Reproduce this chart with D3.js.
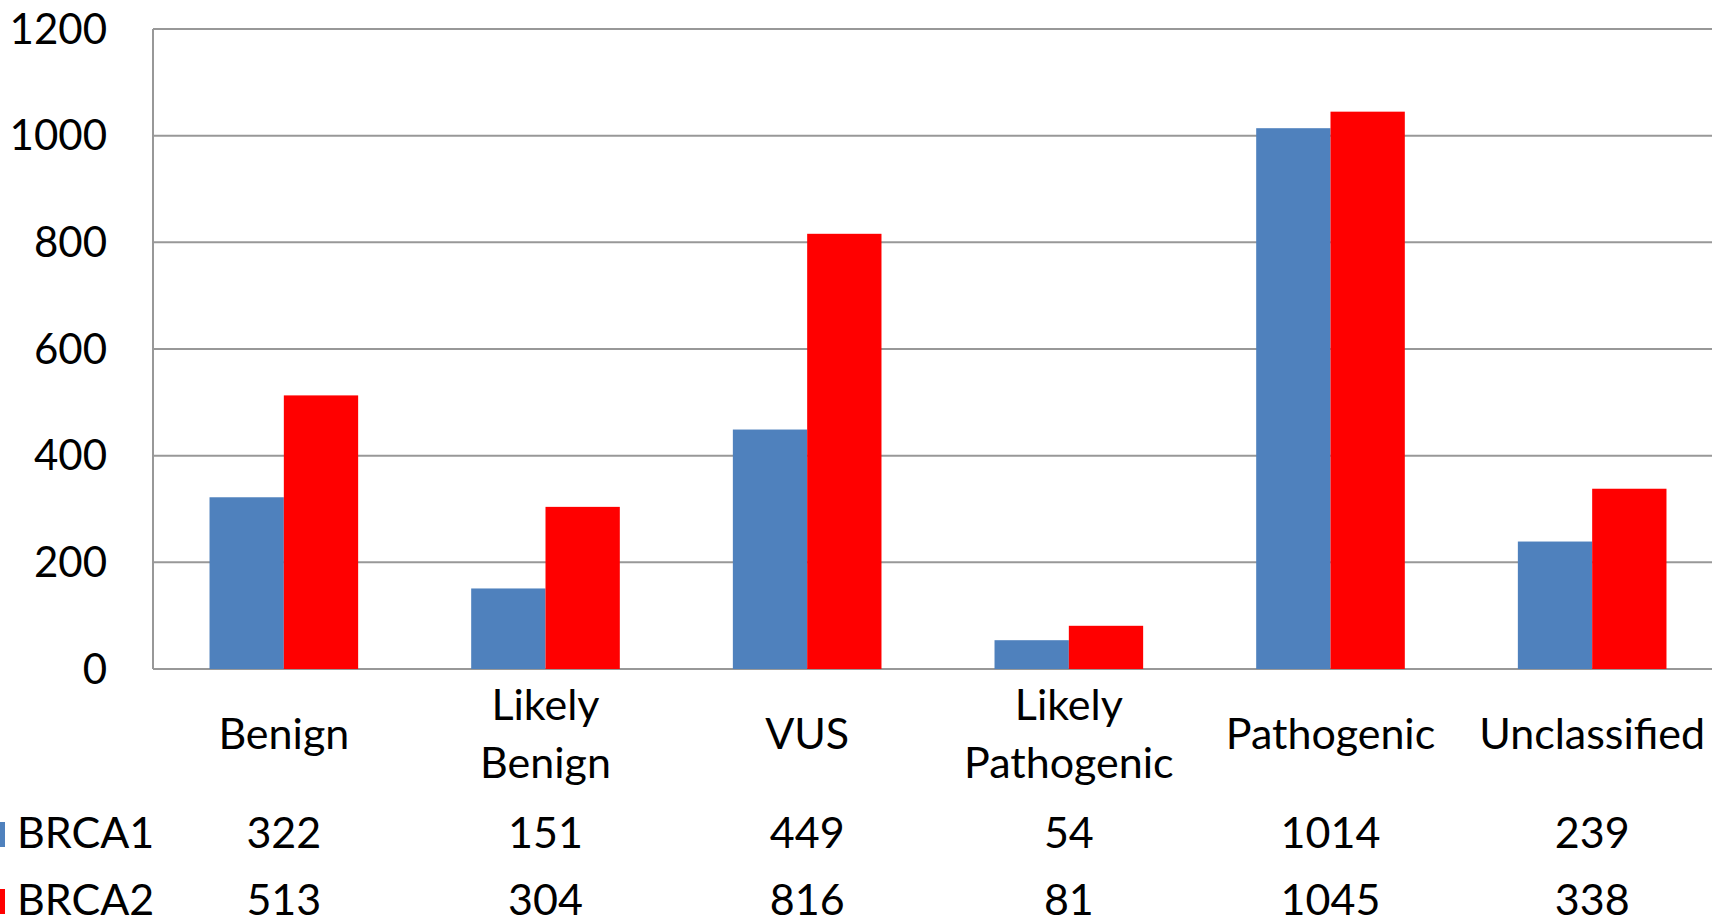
<html>
<head>
<script src="https://d3js.org/d3.v7.min.js"></script>
<style>
  body { margin: 0; background: #fff; overflow: hidden; }
  text { font-family: Lato, "Open Sans", sans-serif; fill: #000; }
</style>
</head>
<body>
<div id="chart"></div>
<script>
// categories and the two series (values as printed in the data table)
var categories = ["Benign", "Likely\nBenign", "VUS", "Likely\nPathogenic", "Pathogenic", "Unclassified"];
var seriesNames = ["BRCA1", "BRCA2"];
var brca1 = [322, 151, 449, 54, 1014, 239];
var brca2 = [513, 304, 816, 81, 1045, 338];
var yTicks = [0, 200, 400, 600, 800, 1000, 1200];
var colors = ["#4F81BD", "#FF0000"];

var W = 1712, H = 920;
var margin = {top: 29, left: 153};
// plot area runs a little past the right edge of the picture
var width = 1570;
var height = 640;

var svg = d3.select("#chart").append("svg")
    .attr("width", W).attr("height", H);

var g = svg.append("g")
    .attr("transform", "translate(" + margin.left + "," + margin.top + ")");

var x = d3.scaleBand().domain(d3.range(categories.length)).range([0, width]).paddingInner(0.432).paddingOuter(0.216);
var x0 = d3.scaleBand().domain(d3.range(categories.length)).range([0, width]);
var y = d3.scaleLinear().domain([0, 1200]).range([height, 0]);

// gridlines
g.selectAll("line.grid")
  .data(yTicks)
  .enter().append("line")
  .attr("x1", 0).attr("x2", width)
  .attr("y1", function(d){ return y(d); })
  .attr("y2", function(d){ return y(d); })
  .attr("stroke", "#989898")
  .attr("stroke-width", 2);

// y axis line
g.append("line")
  .attr("x1", 0).attr("x2", 0)
  .attr("y1", y(1200)).attr("y2", y(0))
  .attr("stroke", "#989898").attr("stroke-width", 2);

// y tick labels
g.selectAll("text.ytick")
  .data(yTicks)
  .enter().append("text")
  .attr("x", -46)
  .attr("y", function(d){ return y(d); })
  .attr("dy", "0.35em")
  .attr("text-anchor", "end")
  .style("font-size", "42px")
  .text(function(d){ return d; });

// bars
var series = [brca1, brca2];
var bw = x.bandwidth() / 2;
series.forEach(function(vals, si) {
  g.selectAll("rect.s" + si)
    .data(vals)
    .enter().append("rect")
    .attr("x", function(d, i){ return x(i) + si * bw; })
    .attr("y", function(d){ return y(d); })
    .attr("width", bw)
    .attr("height", function(d){ return y(0) - y(d); })
    .attr("fill", colors[si]);
});

// category labels
categories.forEach(function(c, i) {
  var lines = c.split("\n");
  var cx = x0(i) + x0.bandwidth() / 2;
  var t = g.append("text")
    .attr("text-anchor", "middle")
    .style("font-size", "43px");
  var startY = lines.length === 1 ? 749 : 720;
  lines.forEach(function(l, li) {
    t.append("tspan")
      .attr("x", cx)
      .attr("y", startY - margin.top + li * 58)
      .text(l);
  });
});

// data table rows
var rowBase = [848, 915];
seriesNames.forEach(function(name, si) {
  svg.append("rect")
    .attr("x", -20).attr("y", rowBase[si] - 26)
    .attr("width", 25).attr("height", 25)
    .attr("fill", colors[si]);
  svg.append("text")
    .attr("x", 17).attr("y", rowBase[si])
    .style("font-size", "43px")
    .text(name);
  g.selectAll("text.val" + si)
    .data(series[si])
    .enter().append("text")
    .attr("x", function(d, i){ return x0(i) + x0.bandwidth() / 2; })
    .attr("y", rowBase[si] - margin.top)
    .attr("text-anchor", "middle")
    .style("font-size", "43px")
    .text(function(d){ return d; });
});
</script>
</body>
</html>
